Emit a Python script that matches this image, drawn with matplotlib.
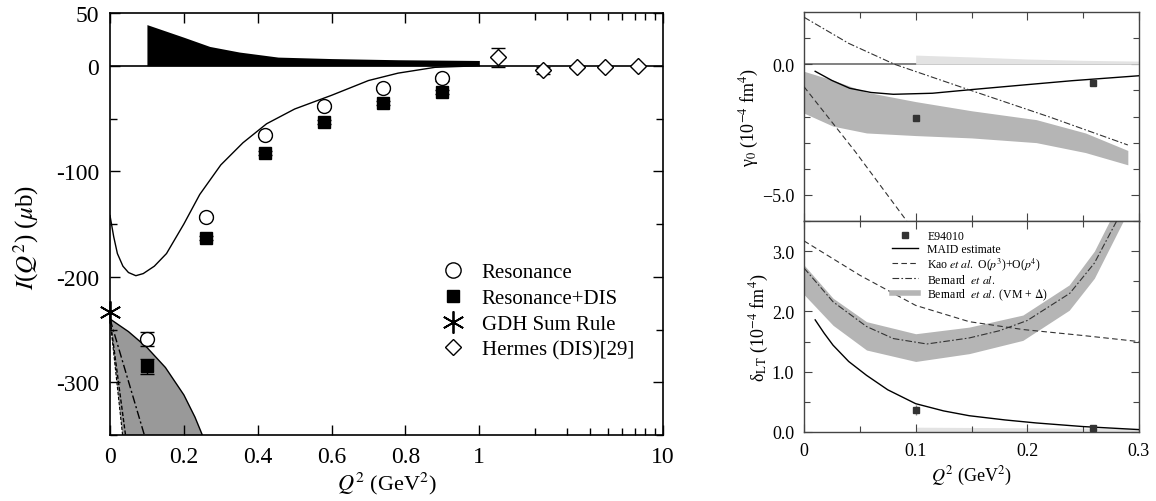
import numpy as np
import matplotlib.pyplot as plt
from matplotlib.lines import Line2D

plt.rcParams['font.family'] = ['Liberation Serif', 'DejaVu Serif']
plt.rcParams['mathtext.fontset'] = 'stix'
plt.rcParams['axes.unicode_minus'] = False

# ---- left panel: I(Q^2) ----
q2_res = [0.1, 0.26, 0.42, 0.58, 0.74, 0.9]
i_res = [-259, -143, -66, -38, -21, -12]
i_res_err = [7, 2, 2, 2, 2, 2]
i_resdis = [-285, -163, -83, -53, -35, -25]
i_resdis_err = [7, 2, 2, 2, 2, 2]
q2_gdh = [0.0]
i_gdh = [-233]
q2_hermes = [1.26, 2.21, 3.4, 4.86, 7.28]
i_hermes = [8, -4.5, -1, -1, -0.5]
i_hermes_err = [9, 3, 1, 1, 1]

q2_dis = [0.1, 0.15, 0.2, 0.27, 0.35, 0.455, 0.6, 0.78, 1.0]
i_dis = [39, 33, 27, 18.3, 13, 8.2, 6.8, 5.7, 5.0]

q2_maid = [0, 0.01, 0.02, 0.035, 0.05, 0.07, 0.09, 0.12, 0.153, 0.2, 0.243, 0.3,
           0.36, 0.424, 0.5, 0.6, 0.7, 0.78, 0.88, 1.0]
i_maid = [-142, -162, -178, -190, -196, -199, -197, -190, -178, -150, -122, -94,
          -73, -55, -41, -28, -14, -7, -1.5, 0]

q2_chpt_up = [0, 0.05, 0.1, 0.15, 0.2, 0.23, 0.25]
i_chpt_up = [-240, -252, -267, -286, -312, -333, -350]
q2_chpt_lo = [0.034, 0.0]
i_chpt_lo = [-350, -240]
q2_dash = [0, 0.042]
i_dash = [-240, -350]
q2_dashdot = [0, 0.093]
i_dashdot = [-240, -350]

# ---- right top: gamma_0 ----
g_q2_pts = [0.1, 0.259]
g_pts = [-2.05, -0.70]
g_q2_maid = [0.01, 0.025, 0.041, 0.06, 0.08, 0.115, 0.15, 0.2, 0.24, 0.3]
g_maid = [-0.27, -0.62, -0.92, -1.08, -1.15, -1.11, -0.97, -0.78, -0.63, -0.44]
g_q2_kao = [0, 0.046, 0.092]
g_kao = [-0.86, -3.35, -6.0]
g_q2_bern = [0, 0.04, 0.081, 0.148, 0.22, 0.29]
g_bern = [1.8, 0.8, 0.0, -0.98, -2.02, -3.09]
g_q2_band = [0, 0.026, 0.056, 0.1, 0.15, 0.208, 0.252, 0.29]
g_band_hi = [-0.27, -0.61, -1.07, -1.43, -1.78, -2.12, -2.63, -3.3]
g_band_lo = [-1.87, -2.37, -2.63, -2.73, -2.82, -3.0, -3.38, -3.85]
g_q2_sys = [0.1, 0.15, 0.2, 0.25, 0.3]
g_sys = [0.35, 0.28, 0.2, 0.15, 0.12]

# ---- right bottom: delta_LT ----
d_q2_pts = [0.1, 0.259]
d_pts = [0.36, 0.07]
d_pts_err = [0.08, 0.02]
d_q2_maid = [0.01, 0.018, 0.026, 0.04, 0.056, 0.075, 0.1, 0.125, 0.148, 0.18, 0.208,
             0.25, 0.3]
d_maid = [1.86, 1.64, 1.44, 1.17, 0.94, 0.7, 0.47, 0.35, 0.27, 0.2, 0.15, 0.09, 0.04]
d_q2_kao = [0, 0.05, 0.1, 0.148, 0.196, 0.25, 0.3]
d_kao = [3.17, 2.6, 2.1, 1.83, 1.7, 1.6, 1.5]
d_q2_bern = [0, 0.026, 0.056, 0.08, 0.11, 0.148, 0.175, 0.2, 0.238, 0.26, 0.28]
d_bern = [2.72, 2.16, 1.75, 1.55, 1.46, 1.56, 1.68, 1.85, 2.3, 2.8, 3.5]
d_q2_band = [0, 0.026, 0.056, 0.1, 0.148, 0.196, 0.2375, 0.26, 0.29]
d_band_hi = [2.77, 2.22, 1.83, 1.63, 1.74, 1.94, 2.44, 3.0, 4.1]
d_band_lo = [2.28, 1.77, 1.36, 1.17, 1.3, 1.52, 2.02, 2.55, 3.65]
d_q2_sys = [0.1, 0.2, 0.3]
d_sys = [0.08, 0.07, 0.06]

DEC = 184 / 370.0


def fwd(x):
    x = np.asarray(x, dtype=float)
    return np.where(x <= 1, x, 1 + np.log10(np.maximum(x, 1)) * DEC)


def inv(y):
    y = np.asarray(y, dtype=float)
    return np.where(y <= 1, y, 10 ** ((np.minimum(y, 20) - 1) / DEC))


fig = plt.figure(figsize=(11.56, 5.02), dpi=100)
ax = fig.add_axes([110 / 1156, 1 - 436 / 502, 553 / 1156, 422 / 502])
ax.set_xscale('function', functions=(fwd, inv))
ax.set_xlim(0, 10)
ax.set_ylim(-350, 50)

ax.fill(q2_chpt_up + q2_chpt_lo, i_chpt_up + i_chpt_lo, color='#999999', lw=0, zorder=1)
ax.plot(q2_chpt_up, i_chpt_up, color='black', lw=1.0, zorder=2)
ax.plot(q2_chpt_lo, i_chpt_lo, color='black', lw=0.8, ls=(0, (3, 1.5)), zorder=2)
ax.plot(q2_dash, i_dash, color='black', lw=1.0, ls=(0, (3, 1.5)), zorder=2)
ax.plot(q2_dashdot, i_dashdot, color='black', lw=1.0, ls=(0, (6, 2, 1.5, 2)), zorder=2)

ax.fill_between(q2_dis, 0, i_dis, color='black', lw=0, zorder=2)
ax.axhline(0, color='black', lw=1.2, zorder=2)
ax.plot(q2_maid, i_maid, color='black', lw=1.0, zorder=3)

ax.errorbar(q2_res, i_res, yerr=i_res_err, fmt='o', ms=10, mfc='white', mec='black',
            mew=1.0, ecolor='black', elinewidth=1.0, capsize=5, zorder=5)
ax.errorbar(q2_res, i_resdis, yerr=i_resdis_err, fmt='s', ms=9, mfc='black', mec='black',
            ecolor='black', elinewidth=1.0, capsize=5, zorder=5)
ax.plot(q2_gdh, i_gdh, marker=(6, 2, 0), ms=16, color='black', mew=1.3, ls='none',
        clip_on=False, zorder=6)
ax.errorbar(q2_hermes, i_hermes, yerr=i_hermes_err, fmt='D', ms=8.5, mfc='white', mec='black',
            mew=1.0, ecolor='black', elinewidth=1.0, capsize=5, zorder=5)

ax.set_xticks([0, 0.2, 0.4, 0.6, 0.8, 1, 10])
ax.set_xticklabels(['0', '0.2', '0.4', '0.6', '0.8', '1', '10'])
ax.set_xticks([2, 3, 4, 5, 6, 7, 8, 9], minor=True)
ax.set_yticks([50, 0, -100, -200, -300])
ax.set_yticklabels(['50', '0', '-100', '-200', '-300'])
ax.set_yticks([-50, -150, -250, -350], minor=True)
ax.tick_params(which='both', direction='in', top=True, right=True, labelsize=17, width=1)
ax.tick_params(which='major', length=7, pad=8)
ax.tick_params(which='minor', length=5)
for s in ax.spines.values():
    s.set_linewidth(1.2)
ax.set_xlabel('$Q^2$ (GeV$^2$)', fontsize=16, labelpad=2)
ax.set_ylabel('$I$($Q^2$) ($\\mu$b)', fontsize=18)
ax.yaxis.set_label_coords(-0.125, 0.47)

h_res = Line2D([], [], marker='o', ms=11, mfc='white', mec='black', ls='none')
h_rd = Line2D([], [], marker='s', ms=9, mfc='black', mec='black', ls='none')
h_gdh = Line2D([], [], marker=(6, 2, 0), ms=16, color='black', mew=1.3, ls='none')
h_her = Line2D([], [], marker='D', ms=8, mfc='white', mec='black', ls='none')
ax.legend([h_res, h_rd, h_gdh, h_her],
          ['Resonance', 'Resonance+DIS', 'GDH Sum Rule', 'Hermes (DIS)[29]'],
          loc='upper left', bbox_to_anchor=(0.582, 0.433), frameon=False, fontsize=15,
          handlelength=1.0, handletextpad=0.9, labelspacing=0.3, borderpad=0)

# ---- right panels ----
frame = '#444444'
ax1 = fig.add_axes([804 / 1156, 1 - 222 / 502, 335 / 1156, 209 / 502])
ax2 = fig.add_axes([804 / 1156, 1 - 433 / 502, 335 / 1156, 211 / 502], sharex=ax1)

ax1.axhline(0, color='#777777', lw=1.3, zorder=1)
ax1.fill_between(g_q2_sys, 0, g_sys, color='#e3e3e3', lw=0, zorder=2)
ax1.fill_between(g_q2_band, g_band_lo, g_band_hi, color='#b5b5b5', lw=0, zorder=2)
ax1.plot(g_q2_maid, g_maid, color='black', lw=1.0, zorder=3)
ax1.plot(g_q2_kao, g_kao, color='#333333', lw=0.8, ls=(0, (5, 3)), zorder=3)
ax1.plot(g_q2_bern, g_bern, color='#333333', lw=0.8, ls=(0, (6, 2, 1.5, 2)), zorder=3)
ax1.plot(g_q2_pts, g_pts, 's', ms=5, color='#333333', zorder=4)
ax1.set_ylim(-6, 2)
ax1.set_yticks([0, -5])
ax1.set_yticklabels(['0.0', '\u22125.0'])
ax1.set_yticks([1, -1, -2, -3, -4], minor=True)
ax1.set_ylabel('\u03b3$_0$ (10$^{-4}$ fm$^4$)', fontsize=13, labelpad=1)
plt.setp(ax1.get_xticklabels(), visible=False)

ax2.fill_between(d_q2_sys, 0, d_sys, color='#e3e3e3', lw=0, zorder=1)
ax2.fill_between(d_q2_band, d_band_lo, d_band_hi, color='#b5b5b5', lw=0, zorder=2)
ax2.plot(d_q2_maid, d_maid, color='black', lw=1.0, zorder=3)
ax2.plot(d_q2_kao, d_kao, color='#333333', lw=0.8, ls=(0, (5, 3)), zorder=3)
ax2.plot(d_q2_bern, d_bern, color='#333333', lw=0.8, ls=(0, (6, 2, 1.5, 2)), zorder=3)
ax2.errorbar(d_q2_pts, d_pts, yerr=d_pts_err, fmt='s', ms=5, color='#333333',
             ecolor='#888888', elinewidth=1.0, capsize=0, zorder=4)
ax2.set_ylim(0, 3.5)
ax2.set_yticks([0, 1, 2, 3])
ax2.set_yticklabels(['0.0', '1.0', '2.0', '3.0'])
ax2.set_yticks([0.5, 1.5, 2.5, 3.5], minor=True)
ax2.set_xlim(0, 0.3)
ax2.set_xticks([0, 0.1, 0.2, 0.3])
ax2.set_xticklabels(['0', '0.1', '0.2', '0.3'])
ax2.set_xticks([0.05, 0.15, 0.25], minor=True)
ax2.set_ylabel('\u03b4$_{\\rm LT}$ (10$^{-4}$ fm$^4$)', fontsize=13, labelpad=1)
ax2.set_xlabel('$Q^2$ (GeV$^2$)', fontsize=13, labelpad=4)

for a in (ax1, ax2):
    a.tick_params(which='both', direction='in', top=True, right=True, labelsize=13,
                  color=frame, width=0.8)
    a.tick_params(which='major', length=6, pad=7)
    a.tick_params(which='minor', length=4)
    for s in a.spines.values():
        s.set_color(frame)
        s.set_linewidth(1.0)

hl = [Line2D([], [], marker='s', ms=5, color='#333333', ls='none'),
      Line2D([], [], color='black', lw=1.0),
      Line2D([], [], color='#333333', lw=0.8, ls=(0, (5, 3))),
      Line2D([], [], color='#333333', lw=0.8, ls=(0, (6, 2, 1.5, 2))),
      Line2D([], [], color='#b5b5b5', lw=4)]
ll = ['E94010', 'MAID estimate', 'Kao $et\\ al.$ O($p^3$)+O($p^4$)',
      'Bernard  $et\\ al.$', 'Bernard  $et\\ al.$ (VM + $\\Delta$)']
ax2.legend(hl, ll, loc='upper left', bbox_to_anchor=(0.245, 0.985), frameon=False,
           fontsize=8.5, handlelength=2.2, handletextpad=0.8, labelspacing=0.05, borderpad=0)

fig.savefig('out.png', dpi=100)
